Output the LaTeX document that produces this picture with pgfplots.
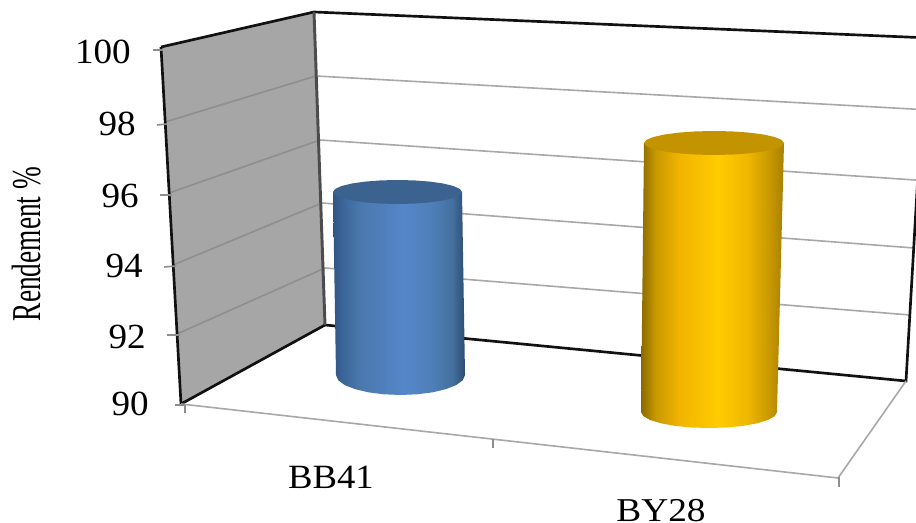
\documentclass[border=0pt]{standalone}
\usepackage{pgfplots}
\pgfplotsset{compat=1.18}
\usepackage{fontspec}
\setmainfont{Liberation Serif}
\definecolor{wallgrey}{HTML}{A6A6A6}
\definecolor{gridback}{HTML}{A8A8A8}
\definecolor{gridside}{HTML}{8E8E8E}
\definecolor{edgedark}{HTML}{111111}
\definecolor{capblue}{HTML}{3C6390}
\definecolor{capyellow}{HTML}{C49300}
% Side shading of the two cylinders, left edge to right edge
\pgfdeclarehorizontalshading{cylblue}{100bp}{
  rgb(0bp)=(0.184,0.329,0.502);
  rgb(25bp)=(0.184,0.329,0.502);
  rgb(28bp)=(0.227,0.392,0.588);
  rgb(35bp)=(0.290,0.471,0.678);
  rgb(52bp)=(0.333,0.525,0.784);
  rgb(62bp)=(0.314,0.502,0.729);
  rgb(70bp)=(0.267,0.439,0.624);
  rgb(75bp)=(0.173,0.302,0.459);
  rgb(100bp)=(0.173,0.302,0.459)}
\pgfdeclarehorizontalshading{cylyellow}{100bp}{
  rgb(0bp)=(0.541,0.416,0);
  rgb(25bp)=(0.541,0.416,0);
  rgb(30bp)=(0.784,0.596,0);
  rgb(38bp)=(0.941,0.706,0);
  rgb(52bp)=(1,0.800,0);
  rgb(62bp)=(0.941,0.722,0);
  rgb(70bp)=(0.784,0.596,0);
  rgb(75bp)=(0.659,0.498,0);
  rgb(100bp)=(0.659,0.498,0)}
\newcommand{\ticklab}[3]{\node[anchor=east,inner sep=0pt,font=\fontsize{26.5}{26.5}\selectfont] at (axis cs:#1,#2) {\scalebox{1.05}[1]{#3}};}
\begin{document}
\begin{tikzpicture}
\begin{axis}[
  scale only axis, width=687pt, height=392.25pt,
  xmin=0, xmax=916, ymin=0, ymax=523, y dir=reverse,
  axis lines=none, clip=true,
]
% canvas
\addplot[draw=none, fill=white] coordinates {(0,0) (916,0) (916,523) (0,523)} --cycle;

% back wall grid
\addplot[gridback, line width=1.2pt] coordinates {(316,76) (930,110)};
\addplot[gridback, line width=1.2pt] coordinates {(320,140) (930,181)};
\addplot[gridback, line width=1.2pt] coordinates {(322,203) (914,248)};
\addplot[gridback, line width=1.2pt] coordinates {(325,268) (910,315)};

% side wall
\addplot[draw=none, fill=wallgrey] coordinates {(161,47) (314,12) (325,325) (181,404)} --cycle;
\addplot[gridside, line width=1.2pt] coordinates {(165,122) (316,76)};
\addplot[gridside, line width=1.2pt] coordinates {(169,193) (320,140)};
\addplot[gridside, line width=1.2pt] coordinates {(173,265) (322,203)};
\addplot[gridside, line width=1.2pt] coordinates {(177,334) (325,268)};

% wall edges
\addplot[edgedark, line width=2pt] coordinates {(161,47) (314,12) (930,38)};
\addplot[edgedark, line width=2pt] coordinates {(161,47) (181,404) (325,325) (906,381) (925,53)};
\addplot[black!70, line width=2.2pt] coordinates {(314,12) (325,325)};

% floor outline and its ticks
\addplot[gridback, line width=1.2pt] coordinates {(181,404) (838,478) (906,381)};
\addplot[gridside, line width=1.2pt] coordinates {(185,405) (185,413)};
\addplot[gridside, line width=1.2pt] coordinates {(493,439) (493,448)};
\addplot[gridside, line width=1.2pt] coordinates {(839,477) (839,487)};

% value ticks
\addplot[gridside, line width=1.2pt] coordinates {(153,50) (163,50)};
\addplot[gridside, line width=1.2pt] coordinates {(157,125) (167,124)};
\addplot[gridside, line width=1.2pt] coordinates {(160,195) (172,195)};
\addplot[gridside, line width=1.2pt] coordinates {(164,267) (176,266)};
\addplot[gridside, line width=1.2pt] coordinates {(167,335) (180,335)};
\addplot[gridside, line width=1.2pt] coordinates {(175,405) (185,405)};

% BB41 cylinder
\addplot[draw=none, shade, shading=cylblue] coordinates {
  (333,192) (336,375) (338.2,380.2) (344.6,385) (354.9,389.1) (368.25,392.3)
  (383.8,394.3) (400.5,395) (417.2,394.3) (432.75,392.3) (446.1,389.1)
  (456.4,385) (462.8,380.2) (465,375) (462,192)} --cycle;
\addplot[draw=none, fill=capblue] coordinates {
  (462,192) (459.8,195.1) (453.4,198) (443.1,200.5) (429.75,202.4) (414.2,203.6)
  (397.5,204) (380.8,203.6) (365.25,202.4) (351.9,200.5) (341.6,198) (335.2,195.1)
  (333,192) (335.2,188.9) (341.6,186) (351.9,183.5) (365.25,181.6) (380.8,180.4)
  (397.5,180) (414.2,180.4) (429.75,181.6) (443.1,183.5) (453.4,186) (459.8,188.9)} --cycle;

% BY28 cylinder
\addplot[draw=none, shade, shading=cylyellow] coordinates {
  (644,143) (641,412) (643.3,416.1) (650.1,420) (660.9,423.3) (675,425.9)
  (691.4,427.5) (709,428) (726.6,427.5) (743,425.9) (757.1,423.3)
  (767.9,420) (774.7,416.1) (777,412) (784,143)} --cycle;
\addplot[draw=none, fill=capyellow] coordinates {
  (784,143) (781.6,146.1) (774.6,149) (763.5,151.5) (749,153.4) (732.1,154.6)
  (714,155) (695.9,154.6) (679,153.4) (664.5,151.5) (653.4,149) (646.4,146.1)
  (644,143) (646.4,139.9) (653.4,137) (664.5,134.5) (679,132.6) (695.9,131.4)
  (714,131) (732.1,131.4) (749,132.6) (763.5,134.5) (774.6,137) (781.6,139.9)} --cycle;

% text
\ticklab{131}{52}{100}
\ticklab{136}{124}{98}
\ticklab{139}{196}{96}
\ticklab{143}{266}{94}
\ticklab{146}{337}{92}
\ticklab{149}{404}{90}
\node[inner sep=0pt, font=\fontsize{25.5}{25.5}\selectfont] at (axis cs:331,477) {\scalebox{1.08}[1]{BB41}};
\node[inner sep=0pt, font=\fontsize{25}{25}\selectfont] at (axis cs:661,511) {\scalebox{1.12}[1]{BY28}};
\node[inner sep=0pt, rotate=90, font=\fontsize{20.5}{20.5}\selectfont] at (axis cs:26.5,244) {\scalebox{1}[1.5]{Rendement \%}};
\end{axis}
\end{tikzpicture}
\end{document}
